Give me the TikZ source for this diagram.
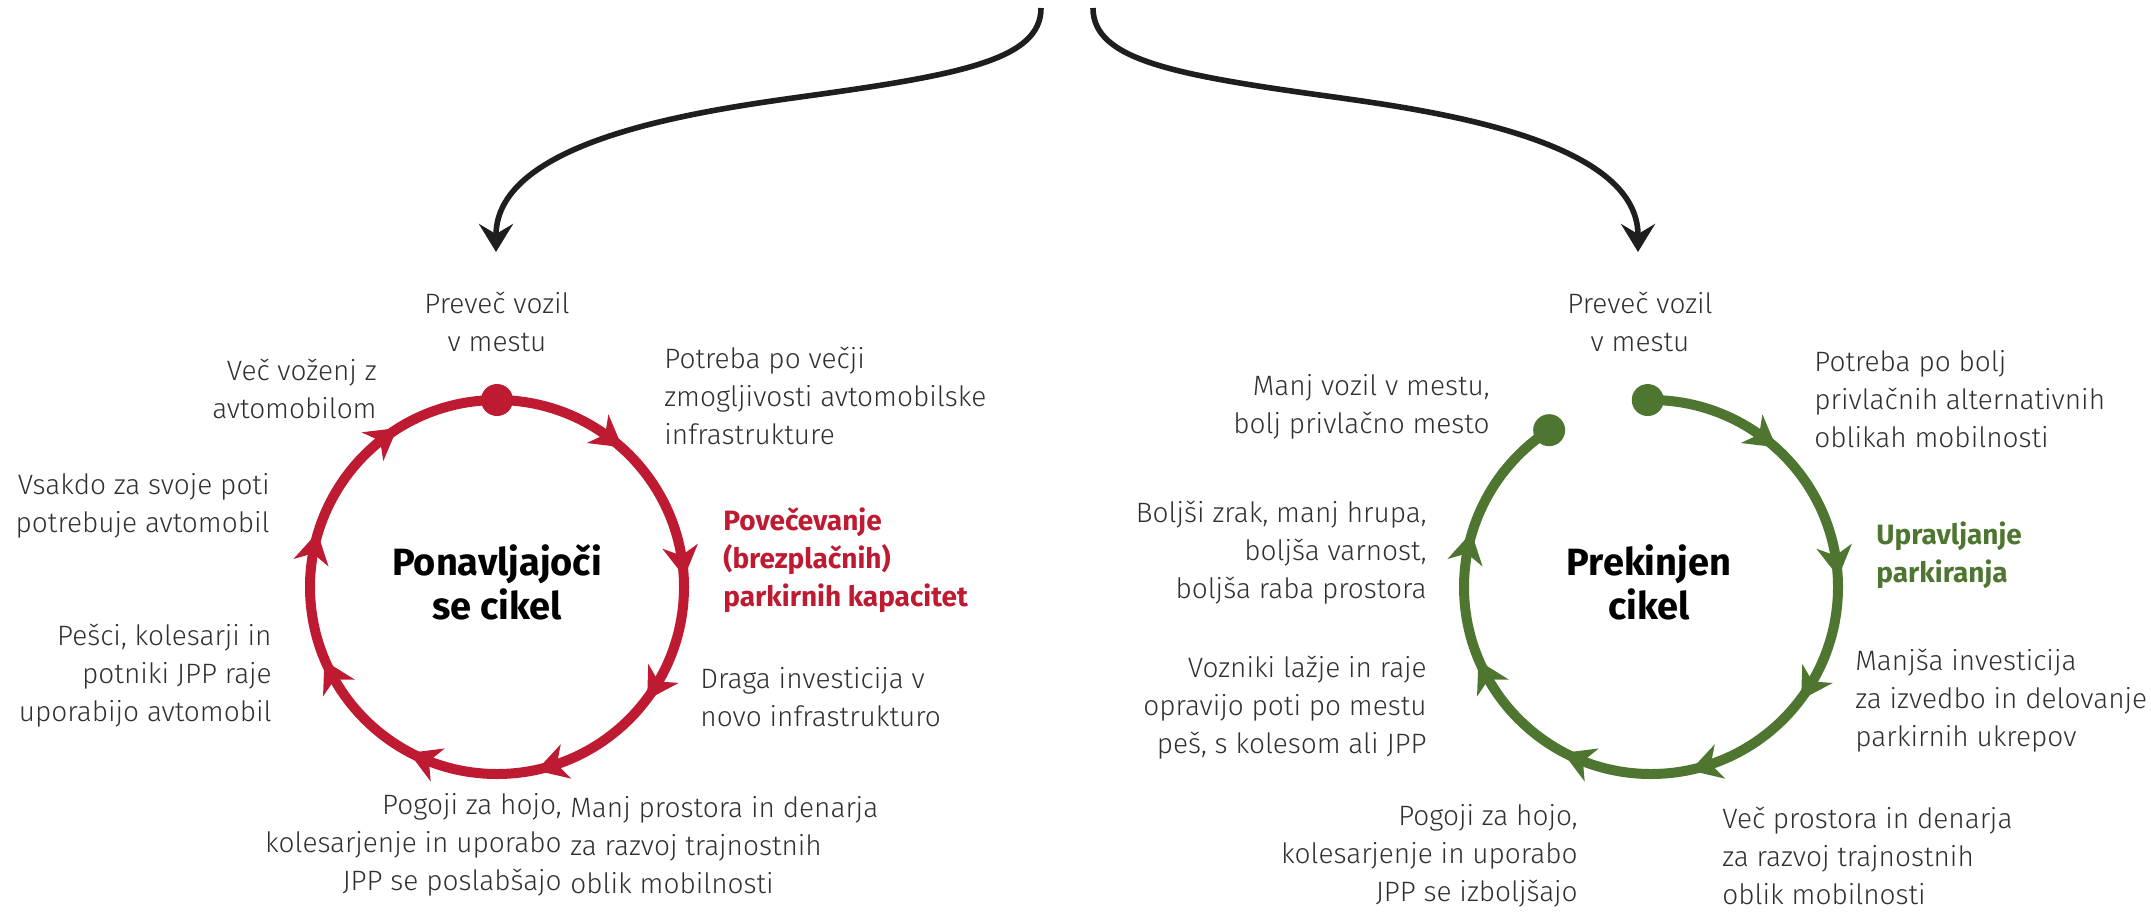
\documentclass[tikz,border=0pt]{standalone}
\usepackage{fontspec}
\setmainfont{Fira Sans Light}
\newfontfamily\boldfam{Fira Sans}
\usetikzlibrary{arrows.meta}
\definecolor{cred}{RGB}{190,27,50}
\definecolor{cgreen}{RGB}{78,118,48}
\definecolor{ctext}{RGB}{48,48,48}
\definecolor{cdark}{RGB}{30,30,30}
\tikzset{
  txt/.style={font=\fontsize{14pt}{19pt}\selectfont, text=ctext, inner sep=0pt},
  txtl/.style={txt, align=left, anchor=west},
  txtr/.style={txt, align=right, anchor=east},
  txtc/.style={txt, align=center},
  ttl/.style={font=\boldfam\bfseries\fontsize{19pt}{22pt}\selectfont, text=black, align=center, inner sep=0pt},
  emphl/.style={font=\boldfam\bfseries\fontsize{14pt}{19pt}\selectfont, align=left, anchor=west, inner sep=0pt},
  topcurve/.style={draw=cdark, line width=2.8pt, -{Stealth[length=14pt,width=17pt,inset=5pt]}},
  ring/.style={line width=5pt},
}
\newcommand\cyclehead[3]{% color, center, angle
  \fill[#1, shift={(#2)}, rotate=#3] (187,-16) -- (205,15) -- (190,7) -- (187,3) -- (184,7) -- (169,15) -- cycle;}
\begin{document}
\begin{tikzpicture}[x=0.5pt,y=0.5pt]
\useasboundingbox (0,0) rectangle (2151,-912);
% top curves
\coordinate (t1) at (1041,-8);
\coordinate (t2) at (1093,-8);
\coordinate (a1) at (496,-252);
\coordinate (a2) at (1638,-252);
\draw[topcurve] (t1) .. controls (1041,-60) and (960,-75) .. (800,-97)
   .. controls (700,-111) and (496,-140) .. (a1);
\draw[topcurve] (t2) .. controls (1093,-60) and (1174,-75) .. (1334,-97)
   .. controls (1434,-111) and (1638,-140) .. (a2);
% left cycle
\coordinate (Lc) at (497,-587);
\draw[cred, ring] (Lc) circle[radius=187];
\fill[cred] (Lc) ++(90:187) coordinate (Ldot) circle[radius=16];
\foreach \a in {53,8,-32,-73,-113,-152,168,127} {\cyclehead{cred}{Lc}{\a}}
% right cycle
\coordinate (Rc) at (1651,-587);
\draw[cgreen, ring] (Rc) ++(91:187) coordinate (Rdot1) arc[start angle=91, end angle=-237, radius=187] coordinate (Rdot2);
\fill[cgreen] (Rdot1) circle[radius=16];
\fill[cgreen] (Rdot2) circle[radius=16];
\foreach \a in {53,8,-32,-73,-113,-152,168} {\cyclehead{cgreen}{Rc}{\a}}
% left texts
\node[ttl] (Lt) at (497,-582) {Ponavljajoči\\se cikel};
\node[txtc] (L1) at (497,-322) {Preveč vozil\\v mestu};
\node[txtl] (L2) at (664,-396) {Potreba po večji\\zmogljivosti avtomobilske\\infrastrukture};
\node[emphl, text=cred] (L3) at (723,-560) {Povečevanje\\(brezplačnih)\\parkirnih kapacitet};
\node[txtl] (L4) at (700,-697) {Draga investicija v\\novo infrastrukturo};
\node[txtl] (L5) at (570,-845) {Manj prostora in denarja\\za razvoj trajnostnih\\oblik mobilnosti};
\node[txtr] (L6) at (562,-845) {Pogoji za hojo,\\kolesarjenje in uporabo\\JPP se poslabšajo};
\node[txtr] (L7) at (272,-676) {Pešci, kolesarji in\\potniki JPP raje\\uporabijo avtomobil};
\node[txtr] (L8) at (270,-506) {Vsakdo za svoje poti\\potrebuje avtomobil};
\node[txtr] (L9) at (377,-389) {Več voženj z\\avtomobilom};
% right texts
\node[ttl] (Rt) at (1649,-582) {Prekinjen\\cikel};
\node[txtc] (R1) at (1640,-322) {Preveč vozil\\v mestu};
\node[txtl] (R2) at (1814,-399) {Potreba po bolj\\privlačnih alternativnih\\oblikah mobilnosti};
\node[emphl, text=cgreen] (R3) at (1876,-555) {Upravljanje\\parkiranja};
\node[txtl] (R4) at (1855,-701) {Manjša investicija\\za izvedbo in delovanje\\parkirnih ukrepov};
\node[txtl] (R5) at (1722,-856) {Več prostora in denarja\\za razvoj trajnostnih\\oblik mobilnosti};
\node[txtr] (R6) at (1578,-856) {Pogoji za hojo,\\kolesarjenje in uporabo\\JPP se izboljšajo};
\node[txtr] (R7) at (1427,-708) {Vozniki lažje in raje\\opravijo poti po mestu\\peš, s kolesom ali JPP};
\node[txtr] (R8) at (1427,-553) {Boljši zrak, manj hrupa,\\boljša varnost,\\boljša raba prostora};
\node[txtr] (R9) at (1490,-407) {Manj vozil v mestu,\\bolj privlačno mesto};
\end{tikzpicture}
\end{document}
